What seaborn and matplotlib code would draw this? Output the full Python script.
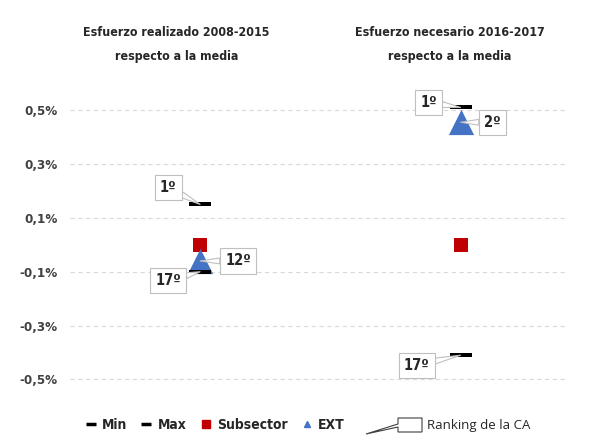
import seaborn as sns
import matplotlib.pyplot as plt
import pandas as pd
from matplotlib.lines import Line2D
from matplotlib.patches import Polygon

# datos (puntos porcentuales respecto a la media)
periodos = ["2008-2015", "2016-2017"]
titulos = ["Esfuerzo realizado 2008-2015\nrespecto a la media",
           "Esfuerzo necesario 2016-2017\nrespecto a la media"]
v_min = [-0.10, -0.41]
v_max = [0.15, 0.51]
v_subsector = [0.00, 0.00]
v_ext = [-0.06, 0.455]
rank_min = ["17º", "17º"]
rank_max = ["1º", "1º"]
rank_ext = ["12º", "2º"]
yticks = [-0.5, -0.3, -0.1, 0.1, 0.3, 0.5]

df = pd.DataFrame({"periodo": periodos, "Min": v_min, "Max": v_max,
                   "Subsector": v_subsector, "EXT": v_ext})

sns.set_theme(style="white")
plt.rcParams["font.family"] = ["DejaVu Sans"]
plt.rcParams["font.stretch"] = "condensed"

fig = plt.figure(figsize=(5.97, 4.45), dpi=100)
ax = fig.add_axes([0.117, 0.117, 0.829, 0.696])

dash = [(-1, -0.17), (1, -0.17), (1, 0.17), (-1, 0.17)]
sns.scatterplot(data=df, x="periodo", y="Subsector", marker="s", s=110,
                color="#C00000", linewidth=0, ax=ax, zorder=3)
sns.scatterplot(data=df, x="periodo", y="EXT", marker="^", s=330,
                color="#4472C4", linewidth=0, ax=ax, zorder=4)
sns.scatterplot(data=df, x="periodo", y="Min", marker=dash, s=230,
                color="black", linewidth=0, ax=ax, zorder=5)
sns.scatterplot(data=df, x="periodo", y="Max", marker=dash, s=230,
                color="black", linewidth=0, ax=ax, zorder=5)

ax.set_xlim(-0.5, 1.4)
ax.set_ylim(-0.55, 0.6)
ax.set_yticks(yticks)
ax.set_yticklabels([f"{t:.1f}%".replace(".", ",") for t in yticks],
                   fontsize=9.5, fontweight="bold", color="#404040")
ax.tick_params(axis="y", length=0, pad=9)
ax.set_xticks([])
ax.set_xlabel("")
ax.set_ylabel("")
ax.grid(axis="y", linestyle=(0, (4, 3)), color="#d9d9d9", linewidth=0.8)
for s in ax.spines.values():
    s.set_visible(False)

# títulos de cada columna
for xc, t in zip([-0.09, 0.96], titulos):
    ax.text(xc, 1.125, t, transform=ax.get_xaxis_transform(), ha="center",
            va="center", fontsize=8.9, fontweight="bold", color="#262626",
            linespacing=2.1)


def callout(i, y, txt, dx, dy):
    ax.annotate(txt, xy=(i, y), xytext=(dx, dy), textcoords="offset pixels",
                ha="center", va="center", fontsize=10.5, fontweight="bold",
                color="#262626", zorder=6,
                bbox=dict(boxstyle="square,pad=0.35", fc="white",
                          ec="#bfbfbf", lw=0.8),
                arrowprops=dict(arrowstyle="wedge,tail_width=0.4", fc="white",
                                ec="#bfbfbf", lw=0.8, shrinkA=0, shrinkB=0))


offs_max = [(-32, 17), (-32, 5)]
offs_min = [(-32, -9), (-44, -10)]
offs_ext = [(38, 0), (32, 0)]
for i in range(2):
    callout(i, v_max[i], rank_max[i], *offs_max[i])
    callout(i, v_min[i], rank_min[i], *offs_min[i])
    callout(i, v_ext[i], rank_ext[i], *offs_ext[i])

# leyenda
handles = [
    Line2D([], [], ls="", marker="_", ms=7, mew=2.5, color="black"),
    Line2D([], [], ls="", marker="_", ms=7, mew=2.5, color="black"),
    Line2D([], [], ls="", marker="s", ms=6, color="#C00000"),
    Line2D([], [], ls="", marker="^", ms=5, color="#4472C4"),
]
fig.legend(handles, ["Min", "Max", "Subsector", "EXT"], loc="center",
           bbox_to_anchor=(0.36, 0.045), ncol=4, frameon=False,
           handlelength=0.8, handletextpad=0.4, columnspacing=1.0,
           prop={"weight": "bold", "size": 10, "stretch": "condensed"})

W, H = 597, 445
icon = [(398, 418), (422, 418), (422, 432), (398, 432), (398, 427),
        (366, 434), (398, 424)]
fig.patches.append(Polygon([(x / W, 1 - y / H) for x, y in icon],
                           closed=True, fc="white", ec="#404040", lw=0.8,
                           transform=fig.transFigure))
fig.text(427 / W, 1 - 425 / H, "Ranking de la CA", ha="left", va="center",
         fontsize=9.5, color="#262626", fontstretch="normal",
         family=["Open Sans", "DejaVu Sans"])

fig.savefig("out.png", dpi=100)
